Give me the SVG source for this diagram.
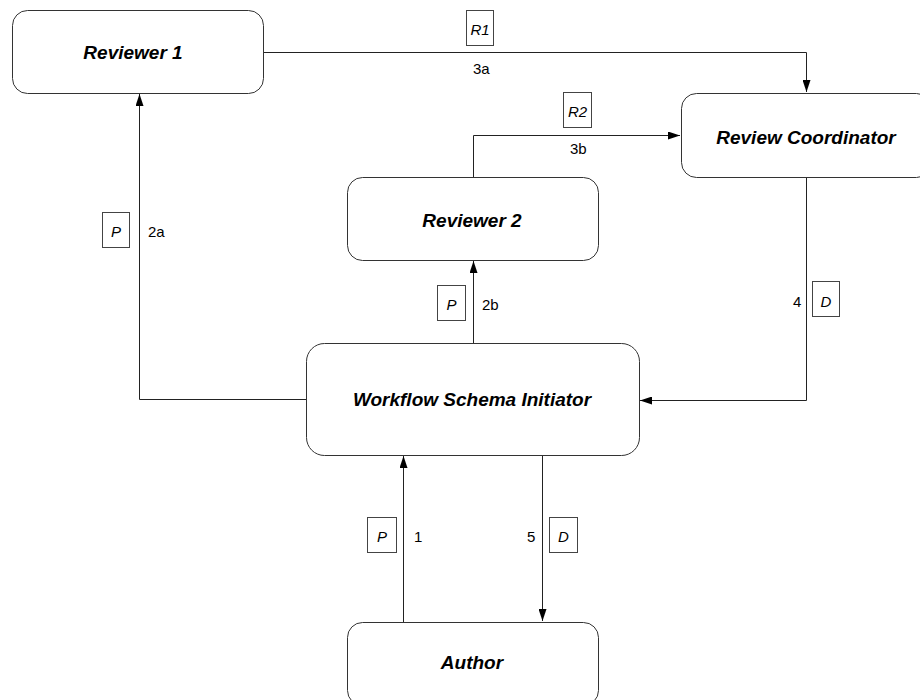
<svg xmlns="http://www.w3.org/2000/svg" width="920" height="700" viewBox="0 0 920 700">
  <defs>
    <marker id="arrow" viewBox="0 0 12 8" refX="12" refY="4" markerWidth="12" markerHeight="8" markerUnits="userSpaceOnUse" orient="auto">
      <path d="M0,0 L12,4 L0,8 Z" fill="#000"/>
    </marker>
    <style>
      .node rect { fill: #fff; stroke: #333; stroke-width: 1; }
      .node text { font-family: "Liberation Sans", Arial, sans-serif; font-size: 19px; font-weight: bold; font-style: italic; text-anchor: middle; fill: #000; }
      .conn path { fill: none; stroke: #222; stroke-width: 1; }
      .tag rect { fill: #fff; stroke: #444; stroke-width: 1; }
      .tag text { font-family: "Liberation Sans", Arial, sans-serif; font-size: 15px; font-style: italic; text-anchor: middle; fill: #000; }
      .num { font-family: "Liberation Sans", Arial, sans-serif; font-size: 15px; fill: #000; }
    </style>
  </defs>

  <!-- connectors -->
  <g id="connectors" class="conn">
    <!-- 1: Author -> Workflow Schema Initiator -->
    <path d="M403.5,622 V456" marker-end="url(#arrow)"/>
    <!-- 2a: Initiator -> Reviewer 1 -->
    <path d="M306,399.5 H139.5 V94" marker-end="url(#arrow)"/>
    <!-- 2b: Initiator -> Reviewer 2 -->
    <path d="M473.5,343 V261" marker-end="url(#arrow)"/>
    <!-- 3a: Reviewer 1 -> Review Coordinator -->
    <path d="M263,52.5 H806.5 V92" marker-end="url(#arrow)"/>
    <!-- 3b: Reviewer 2 -> Review Coordinator -->
    <path d="M473.5,177 V135.5 H680" marker-end="url(#arrow)"/>
    <!-- 4: Review Coordinator -> Initiator -->
    <path d="M806.5,177 V400.5 H640" marker-end="url(#arrow)"/>
    <!-- 5: Initiator -> Author -->
    <path d="M542.5,455 V621" marker-end="url(#arrow)"/>
  </g>

  <!-- message tags and step numbers -->
  <g id="labels">
    <g class="tag"><rect x="466.5" y="10.5" width="27" height="35"/><text x="480" y="35">R1</text></g>
    <text class="num" x="473" y="74">3a</text>

    <g class="tag"><rect x="563.5" y="92.5" width="28" height="35"/><text x="577.5" y="117">R2</text></g>
    <text class="num" x="570" y="154">3b</text>

    <g class="tag"><rect x="102.5" y="212.5" width="27" height="35"/><text x="116" y="237">P</text></g>
    <text class="num" x="148" y="237">2a</text>

    <g class="tag"><rect x="437.5" y="285.5" width="28" height="35"/><text x="451.5" y="310">P</text></g>
    <text class="num" x="482" y="310">2b</text>

    <g class="tag"><rect x="812.5" y="281.5" width="27" height="35"/><text x="826" y="307">D</text></g>
    <text class="num" x="793" y="307">4</text>

    <g class="tag"><rect x="367.5" y="517.5" width="29" height="35"/><text x="382" y="542">P</text></g>
    <text class="num" x="414" y="542">1</text>

    <g class="tag"><rect x="549.5" y="517.5" width="28" height="35"/><text x="563.5" y="542">D</text></g>
    <text class="num" x="527" y="542">5</text>
  </g>

  <!-- nodes -->
  <g id="reviewer1" class="node">
    <rect x="12.5" y="10.5" width="251" height="83" rx="15" ry="15"/>
    <text x="133" y="58.5">Reviewer 1</text>
  </g>
  <g id="review-coordinator" class="node">
    <rect x="681.5" y="93.5" width="250" height="84" rx="15" ry="15"/>
    <text x="806" y="144">Review Coordinator</text>
  </g>
  <g id="reviewer2" class="node">
    <rect x="347.5" y="177.5" width="251" height="83" rx="15" ry="15"/>
    <text x="472" y="227">Reviewer 2</text>
  </g>
  <g id="workflow-schema-initiator" class="node">
    <rect x="306.5" y="343.5" width="333" height="112" rx="18" ry="18"/>
    <text x="472" y="406">Workflow Schema Initiator</text>
  </g>
  <g id="author" class="node">
    <rect x="347.5" y="622.5" width="251" height="83" rx="15" ry="15"/>
    <text x="472" y="669">Author</text>
  </g>
</svg>
